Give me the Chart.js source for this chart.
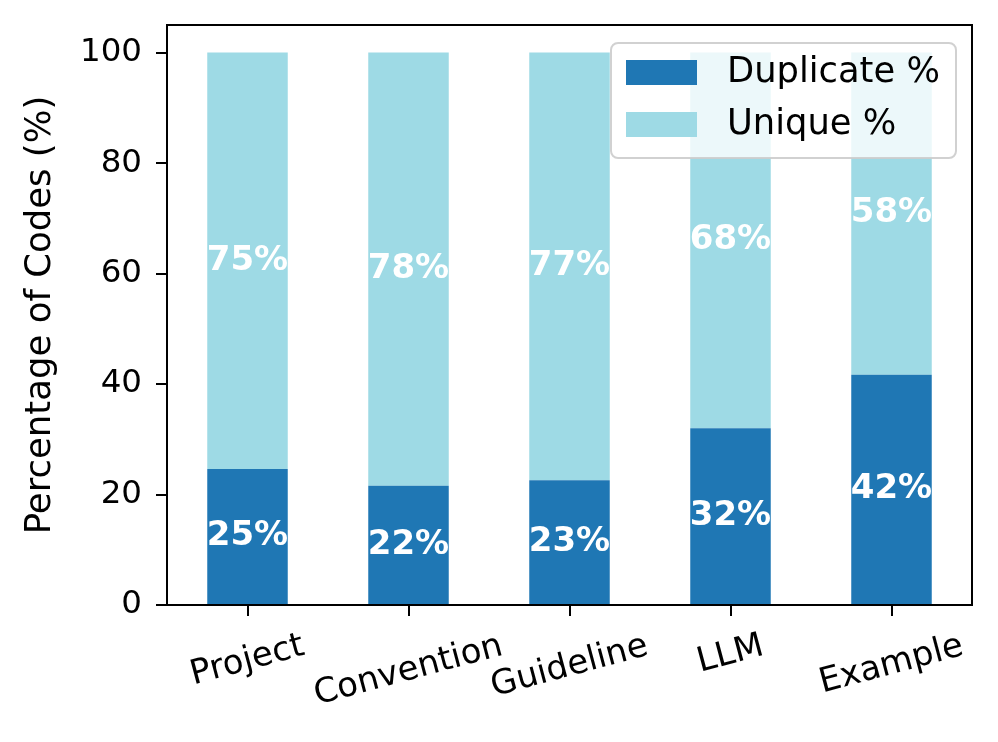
<!DOCTYPE html>
<html>
<head>
<meta charset="utf-8">
<script src="https://cdn.jsdelivr.net/npm/chart.js@4.4.0/dist/chart.umd.min.js"></script>
<style>
  body { margin: 0; background: #fff; }
  canvas { display: block; }
</style>
</head>
<body>
<canvas id="codesChart" width="998" height="742"></canvas>
<script>
const categories = ["Project", "Convention", "Guideline", "LLM", "Example"];
const duplicatePct = [24.6, 21.6, 22.6, 32.0, 41.7];
const uniquePct = [75.4, 78.4, 77.4, 68.0, 58.3];
const yTicks = [0, 20, 40, 60, 80, 100];
const seriesNames = ["Duplicate %", "Unique %"];
const seriesColors = ["#1f77b4", "#9edae5"];

const FONT = "'DejaVu Sans', sans-serif";

// percent labels in the middle of each segment
const barLabels = {
  id: "barLabels",
  afterDatasetsDraw(chart) {
    const ctx = chart.ctx;
    ctx.save();
    ctx.fillStyle = "#fff";
    ctx.font = "bold 34px " + FONT;
    ctx.textAlign = "center";
    ctx.textBaseline = "middle";
    chart.data.datasets.forEach((ds, di) => {
      chart.getDatasetMeta(di).data.forEach((bar, i) => {
        const mid = (bar.y + bar.base) / 2;
        ctx.fillText(Math.round(ds.data[i]) + "%", bar.x, mid);
      });
    });
    ctx.restore();
  }
};

// rotated x labels, centred like matplotlib (top of rotated box fixed)
const xLabels = {
  id: "xLabels",
  afterDraw(chart) {
    const ctx = chart.ctx;
    const xs = chart.scales.x;
    const fs = 34;
    const ang = 15 * Math.PI / 180;
    const h = fs * 1.15;
    const top = 627;
    ctx.save();
    ctx.fillStyle = "#000";
    ctx.font = fs + "px " + FONT;
    ctx.textAlign = "center";
    ctx.textBaseline = "middle";
    categories.forEach((c, i) => {
      const w = ctx.measureText(c).width;
      const H = w * Math.sin(ang) + h * Math.cos(ang);
      ctx.save();
      ctx.translate(xs.getPixelForValue(i), top + H / 2);
      ctx.rotate(-ang);
      ctx.fillText(c, 0, 0);
      ctx.restore();
    });
    ctx.restore();
  }
};

// top/right spines and the legend box
const frameAndLegend = {
  id: "frameAndLegend",
  afterDraw(chart) {
    const ctx = chart.ctx;
    const a = chart.chartArea;
    ctx.save();
    ctx.strokeStyle = "#000";
    ctx.lineWidth = 2;
    ctx.beginPath();
    ctx.moveTo(a.left, a.top);
    ctx.lineTo(a.right, a.top);
    ctx.lineTo(a.right, a.bottom);
    ctx.stroke();

    // legend
    const lx = 611, ly = 43, lw = 345, lh = 115;
    ctx.beginPath();
    ctx.roundRect(lx, ly, lw, lh, 7);
    ctx.fillStyle = "rgba(255,255,255,0.8)";
    ctx.fill();
    ctx.strokeStyle = "rgba(204,204,204,0.9)";
    ctx.lineWidth = 2;
    ctx.stroke();

    ctx.font = "35.3px " + FONT;
    ctx.textAlign = "left";
    ctx.textBaseline = "middle";
    seriesNames.forEach((name, i) => {
      const y = 60 + i * 52;
      ctx.fillStyle = seriesColors[i];
      ctx.fillRect(626, y, 71, 25);
      ctx.fillStyle = "#000";
      ctx.fillText(name, 727, y + 13);
    });
    ctx.restore();
  }
};

new Chart(document.getElementById("codesChart"), {
  type: "bar",
  data: {
    labels: categories,
    datasets: [
      { label: seriesNames[0], data: duplicatePct, backgroundColor: seriesColors[0] },
      { label: seriesNames[1], data: uniquePct, backgroundColor: seriesColors[1] }
    ]
  },
  options: {
    responsive: false,
    animation: false,
    devicePixelRatio: 1,
    layout: { padding: { top: 25, right: 26, bottom: 0, left: 0 } },
    datasets: { bar: { barPercentage: 0.5, categoryPercentage: 1.0 } },
    plugins: { legend: { display: false }, tooltip: { enabled: false } },
    scales: {
      x: {
        stacked: true,
        afterFit(s) { s.height = 137; s.paddingLeft = 0; s.paddingRight = 0; },
        ticks: { display: false },
        grid: { offset: false, drawOnChartArea: false, tickLength: 11, color: "#000", lineWidth: 2 },
        border: { color: "#000", width: 2 }
      },
      y: {
        stacked: true,
        min: 0,
        max: 105,
        afterFit(s) { s.width = 167; s.paddingTop = 0; s.paddingBottom = 0; },
        afterBuildTicks(s) { s.ticks = yTicks.map(v => ({ value: v })); },
        ticks: {
          stepSize: 20,
          includeBounds: false,
          color: "#000",
          padding: 14,
          font: { family: FONT, size: 32.5 }
        },
        grid: { drawOnChartArea: false, tickLength: 11, color: "#000", lineWidth: 2 },
        border: { color: "#000", width: 2 },
        title: {
          display: true,
          text: "Percentage of Codes (%)",
          color: "#000",
          font: { family: FONT, size: 35.5 },
          padding: { top: 19, bottom: 0 }
        }
      }
    }
  },
  plugins: [barLabels, xLabels, frameAndLegend]
});
</script>
</body>
</html>
